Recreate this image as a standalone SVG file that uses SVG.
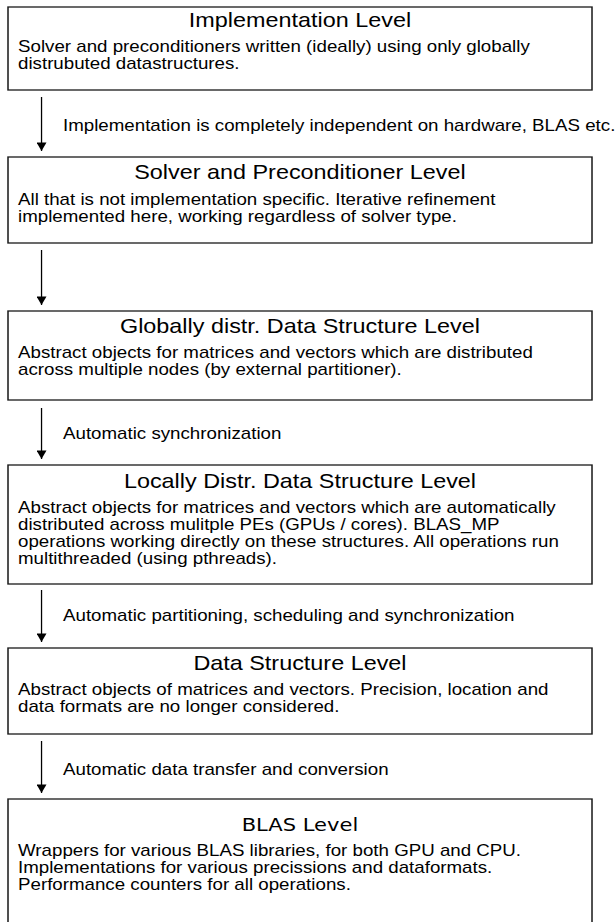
<svg xmlns="http://www.w3.org/2000/svg" width="616" height="922" viewBox="0 0 616 922">
  <style>
    .box { fill: #fff; stroke: #1a1a1a; stroke-width: 1.3; }
    .title { font-family: "Liberation Sans", Arial, sans-serif; font-size: 20px; text-anchor: middle; fill: #000; }
    .title-alt { font-family: "DejaVu Sans", Verdana, sans-serif; font-size: 18px; text-anchor: middle; fill: #000; }
    .body { font-family: "Liberation Sans", Arial, sans-serif; font-size: 16px; fill: #000; }
    .lbl { font-family: "Liberation Sans", Arial, sans-serif; font-size: 16px; fill: #000; }
    .conn { stroke: #000; stroke-width: 1.1; fill: none; marker-end: url(#head); }
  </style>
  <defs>
    <marker id="head" viewBox="0 0 10 10" refX="10" refY="5" markerWidth="10.5" markerHeight="8.5" markerUnits="userSpaceOnUse" orient="auto">
      <path d="M0,0 L10,5 L0,10 z" fill="#000"/>
    </marker>
  </defs>
  <rect width="616" height="922" fill="#fff"/>

  <!-- the whole figure is drawn 1.17x wide -->
  <g transform="scale(1.17 1)">
    <g id="implementation-level">
      <rect class="box" x="6.84" y="7" width="499.15" height="83"/>
      <text class="title" x="256.4" y="27">Implementation Level</text>
      <text class="body" x="15.4" y="52">Solver and preconditioners written (ideally) using only globally</text>
      <text class="body" x="15.4" y="69">distrubuted datastructures.</text>
    </g>

    <g id="solver-level">
      <rect class="box" x="6.84" y="157" width="499.15" height="86"/>
      <text class="title" x="256.4" y="179">Solver and Preconditioner Level</text>
      <text class="body" x="15.4" y="205">All that is not implementation specific. Iterative refinement</text>
      <text class="body" x="15.4" y="222">implemented here, working regardless of solver type.</text>
    </g>

    <g id="global-ds-level">
      <rect class="box" x="6.84" y="311" width="499.15" height="89"/>
      <text class="title" x="256.4" y="333">Globally distr. Data Structure Level</text>
      <text class="body" x="15.4" y="358">Abstract objects for matrices and vectors which are distributed</text>
      <text class="body" x="15.4" y="375">across multiple nodes (by external partitioner).</text>
    </g>

    <g id="local-ds-level">
      <rect class="box" x="6.84" y="465" width="499.15" height="119"/>
      <text class="title" x="256.4" y="488">Locally Distr. Data Structure Level</text>
      <text class="body" x="15.4" y="513">Abstract objects for matrices and vectors which are automatically</text>
      <text class="body" x="15.4" y="530">distributed across mulitple PEs (GPUs / cores). BLAS_MP</text>
      <text class="body" x="15.4" y="547">operations working directly on these structures. All operations run</text>
      <text class="body" x="15.4" y="564">multithreaded (using pthreads).</text>
    </g>

    <g id="ds-level">
      <rect class="box" x="6.84" y="648" width="499.15" height="86"/>
      <text class="title" x="256.4" y="670">Data Structure Level</text>
      <text class="body" x="15.4" y="695">Abstract objects of matrices and vectors. Precision, location and</text>
      <text class="body" x="15.4" y="712">data formats are no longer considered.</text>
    </g>

    <g id="blas-level">
      <rect class="box" x="6.84" y="799" width="499.15" height="140"/>
      <text class="title-alt" x="256.4" y="831">BLAS Level</text>
      <text class="body" x="15.4" y="856">Wrappers for various BLAS libraries, for both GPU and CPU.</text>
      <text class="body" x="15.4" y="873">Implementations for various precissions and dataformats.</text>
      <text class="body" x="15.4" y="890">Performance counters for all operations.</text>
    </g>

    <g id="connectors">
      <line class="conn" x1="35.5" y1="97" x2="35.5" y2="151"/>
      <text class="lbl" x="53.85" y="131">Implementation is completely independent on hardware, BLAS etc.</text>
      <line class="conn" x1="35.5" y1="250" x2="35.5" y2="305"/>
      <line class="conn" x1="35.5" y1="408" x2="35.5" y2="459"/>
      <text class="lbl" x="53.85" y="439">Automatic synchronization</text>
      <line class="conn" x1="35.5" y1="590" x2="35.5" y2="642"/>
      <text class="lbl" x="53.85" y="621">Automatic partitioning, scheduling and synchronization</text>
      <line class="conn" x1="35.5" y1="741" x2="35.5" y2="793"/>
      <text class="lbl" x="53.85" y="775">Automatic data transfer and conversion</text>
    </g>
  </g>
</svg>
